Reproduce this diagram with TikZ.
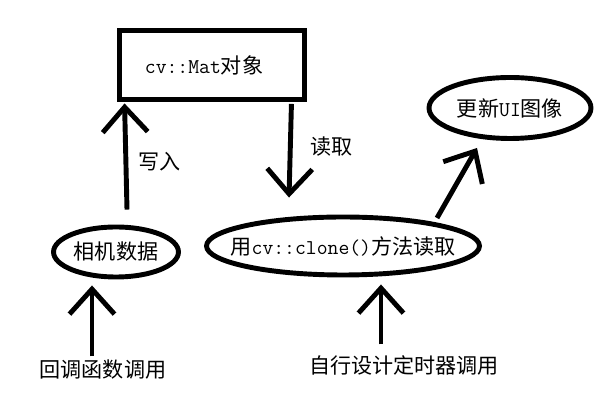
\documentclass[tikz,border=0pt]{standalone}
\usepackage{fontspec}
\setmainfont{Noto Sans CJK SC}
\usepackage{tikz}
\usetikzlibrary{shapes.geometric, arrows.meta}
\tikzstyle{object} = [rectangle, minimum width=3.7cm, minimum height=1.38cm, draw=black, line width=2.8pt]
\tikzstyle{action} = [ellipse, inner sep=0pt, draw=black, line width=2.8pt]
\tikzstyle{caller} = [inner sep=0pt]
\tikzstyle{arrow} = [line width=2.8pt,-{Straight Barb[length=0.5cm,width=0.9cm]}]

\begin{document}
\begin{tikzpicture}[x=0.02cm, y=-0.02cm, font=\fontsize{12}{14}\selectfont]
    \useasboundingbox (0,0) rectangle (616,401);

        % Nodes
        \node (mat) [object] at (212,65) {\hspace*{-0.32cm}\raisebox{-0.08cm}{\texttt{cv::Mat}对象}};
        \node (cam) [action, minimum width=2.5cm, minimum height=1cm] at (116,252) {相机数据};
        \node (clone) [action, minimum width=5.46cm, minimum height=1.16cm] at (343,246) {\makebox[0pt]{用\texttt{cv::clone()}方法读取}};
        \node (ui) [action, minimum width=3.24cm, minimum height=1.22cm] at (510,108) {\makebox[0pt]{更新\texttt{UI}图像}};
        \node (cb) [caller] at (103,370) {回调函数调用};
        \node (timer) [caller] at (404,365) {自行设计定时器调用};

        % Arrows
        \draw [arrow] ([shift={(11,-15)}]cam.north) -- ([shift={(7.5,1.5)}]mat.south west) node[pos=0.45, right=0.08cm] {写入};
        \draw [arrow] ([shift={(-15.5,2)}]mat.south east) -- ([shift={(-54,-17)}]clone.north) node[pos=0.46, right=0.24cm] {读取};
        \draw [arrow] ([shift={(94,-28)}]clone.center) -- ([shift={(-33,7)}]ui.south);
        \draw [arrow] ([shift={(-11,-3.5)}]cb.north) -- ([shift={(-24,6)}]cam.south);
        \draw [arrow] ([shift={(-23,-10.5)}]timer.north) -- ([shift={(38,7)}]clone.south);

\end{tikzpicture}
\end{document}
